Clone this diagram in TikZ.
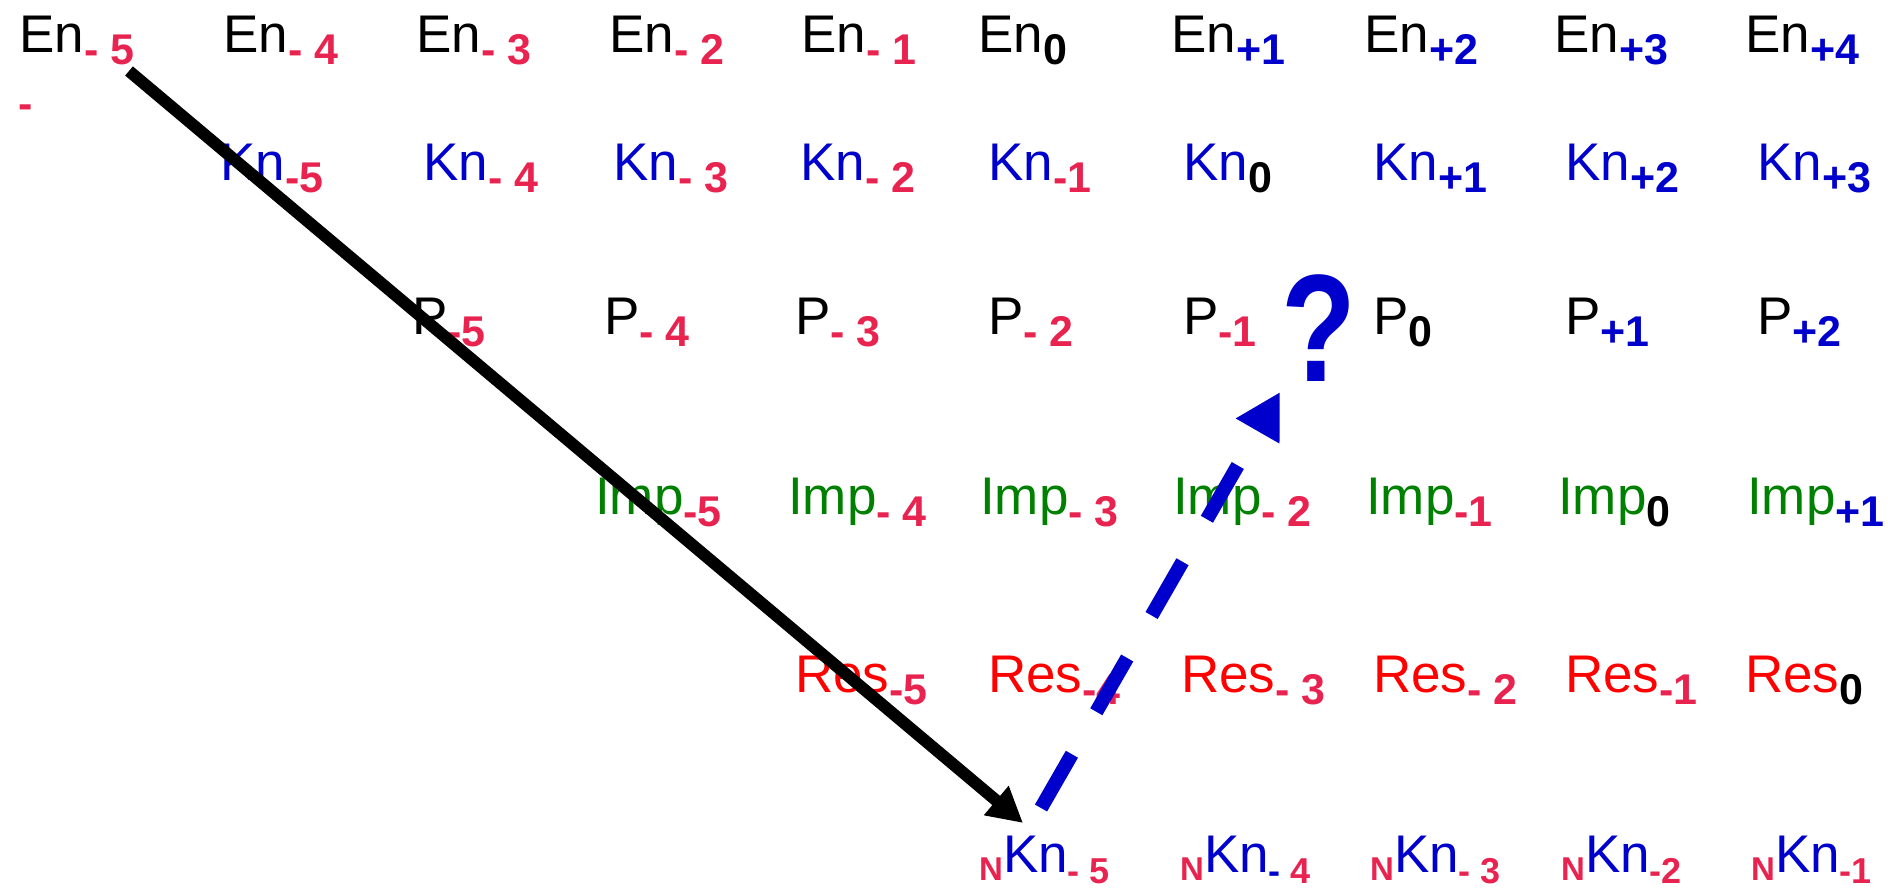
\documentclass[tikz,border=0pt]{standalone}
\usepackage{fontspec}
\usepackage{graphicx}
\setmainfont{Liberation Sans}
\usetikzlibrary{arrows.meta}
\definecolor{crim}{HTML}{E8234F}
\definecolor{myblue}{HTML}{0000CC}
\definecolor{mygreen}{HTML}{008000}
\definecolor{myred}{HTML}{FF0000}
\newcommand{\mainf}{\fontsize{53}{62}\selectfont}
\newcommand{\subf}{\fontsize{43}{50}\selectfont\bfseries}
\newcommand{\subsmall}{\fontsize{36}{42}\selectfont\bfseries}
\newcommand{\sbs}[1]{\raisebox{-12pt}{\subf #1}}
\newcommand{\sbn}[1]{\raisebox{-11pt}{\subsmall #1}}
\newcommand{\subM}[1]{\sbs{\textcolor{crim}{-\ #1}}}
\newcommand{\subT}[1]{\sbs{\textcolor{crim}{-#1}}}
\newcommand{\subZ}{\sbs{\textcolor{black}{0}}}
\newcommand{\subP}[1]{\sbs{\textcolor{myblue}{+#1}}}
\newcommand{\nsubM}[1]{\sbn{\textcolor{crim}{-\ #1}}}
\newcommand{\nsubT}[1]{\sbn{\textcolor{crim}{-#1}}}
\newcommand{\preN}{\raisebox{-8pt}{\fontsize{33}{40}\selectfont\bfseries\textcolor{crim}{N}}}
\begin{document}
\begin{tikzpicture}[x=1pt,y=-1pt,
  lab/.style={anchor=base west, inner sep=0pt, font=\mainf},
  enlab/.style={lab, text=black},
  knlab/.style={lab, text=myblue},
  plab/.style={lab, text=black},
  implab/.style={lab, text=mygreen},
  reslab/.style={lab, text=myred},
  blackarrow/.style={line width=12pt, black, -{Triangle[length=35pt,width=36pt]}},
  bluearrow/.style={line width=14pt, myblue, dash pattern=on 62pt off 49pt, -{Triangle[length=45pt,width=47pt]}}]
\useasboundingbox (0,0) rectangle (1888,888);
% Row En
\node[enlab] (enm5) at (19,53) {En\subM{5}};
\node[enlab] (enm4) at (223,53) {En\subM{4}};
\node[enlab] (enm3) at (416,53) {En\subM{3}};
\node[enlab] (enm2) at (609,53) {En\subM{2}};
\node[enlab] (enm1) at (801,53) {En\subM{1}};
\node[enlab] (en0) at (978,53) {En\subZ};
\node[enlab] (enp1) at (1171,53) {En\subP{1}};
\node[enlab] (enp2) at (1364,53) {En\subP{2}};
\node[enlab] (enp3) at (1554,53) {En\subP{3}};
\node[enlab] (enp4) at (1745,53) {En\subP{4}};
\node[lab, font=\subf, text=crim] (stray) at (18,119) {-};
% Row Kn
\node[knlab] (knm5) at (220,181) {Kn\subT{5}};
\node[knlab] (knm4) at (423,181) {Kn\subM{4}};
\node[knlab] (knm3) at (613,181) {Kn\subM{3}};
\node[knlab] (knm2) at (800,181) {Kn\subM{2}};
\node[knlab] (knm1) at (988,181) {Kn\subT{1}};
\node[knlab] (kn0) at (1183,181) {Kn\subZ};
\node[knlab] (knp1) at (1373,181) {Kn\subP{1}};
\node[knlab] (knp2) at (1565,181) {Kn\subP{2}};
\node[knlab] (knp3) at (1757,181) {Kn\subP{3}};
% Row P
\node[plab] (pm5) at (412,334) {P\subT{5}};
\node[plab] (pm4) at (604,334) {P\subM{4}};
\node[plab] (pm3) at (795,334) {P\subM{3}};
\node[plab] (pm2) at (988,334) {P\subM{2}};
\node[plab] (pm1) at (1183,334) {P\subT{1}};
\node[plab] (p0) at (1373,334) {P\subZ};
\node[plab] (pp1) at (1565,334) {P\subP{1}};
\node[plab] (pp2) at (1757,334) {P\subP{2}};
% Row Imp
\node[implab] (impm5) at (595,514) {Imp\subT{5}};
\node[implab] (impm4) at (788,514) {Imp\subM{4}};
\node[implab] (impm3) at (980,514) {Imp\subM{3}};
\node[implab] (impm2) at (1173,514) {Imp\subM{2}};
\node[implab] (impm1) at (1366,514) {Imp\subT{1}};
\node[implab] (imp0) at (1558,514) {Imp\subZ};
\node[implab] (impp1) at (1747,514) {Imp\subP{1}};
% Row Res
\node[reslab] (resm5) at (795,692) {Res\subT{5}};
\node[reslab] (resm4) at (988,692) {Res\subT{4}};
\node[reslab] (resm3) at (1181,692) {Res\subM{3}};
\node[reslab] (resm2) at (1373,692) {Res\subM{2}};
\node[reslab] (resm1) at (1565,692) {Res\subT{1}};
\node[reslab] (res0) at (1745,692) {Res\subZ};
% Row NKn
\node[knlab] (nknm5) at (979,872) {\preN Kn\nsubM{5}};
\node[knlab] (nknm4) at (1180,872) {\preN Kn\sbn{\textcolor{myblue}{-}\ \textcolor{crim}{4}}};
\node[knlab] (nknm3) at (1370,872) {\preN Kn\nsubM{3}};
\node[knlab] (nknm2) at (1561,872) {\preN Kn\nsubT{2}};
\node[knlab] (nknm1) at (1751,872) {\preN Kn\nsubT{1}};
% Question mark
\node[anchor=base, inner sep=0pt, text=myblue, font=\fontsize{153}{160}\selectfont\bfseries] (qm) at (1319,381) {\scalebox{0.8}[1]{?}};
% Arrows
\coordinate (blackStart) at (129,71);
\coordinate (blackEnd) at (1023,823);
\coordinate (blueStart) at (1041,808);
\coordinate (blueEnd) at (1280,392);
\draw[blackarrow] (blackStart) -- (blackEnd);
\draw[bluearrow] (blueStart) -- (blueEnd);
\end{tikzpicture}
\end{document}
